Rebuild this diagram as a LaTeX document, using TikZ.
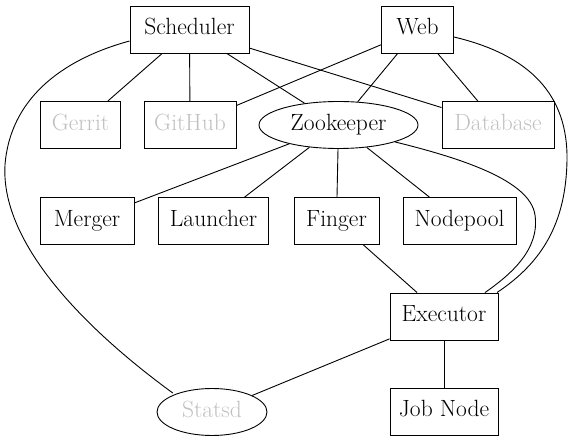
\documentclass[tikz,border=0pt]{standalone}
\usetikzlibrary{shapes.geometric}
\definecolor{gvgray}{RGB}{192,192,192}
\begin{document}
\begin{tikzpicture}[x=1pt,y=-1pt,
  every node/.style={font=\fontsize{23.5}{27}\selectfont, inner sep=0pt, text height=15pt, text depth=4.5pt},
  box/.style={draw, rectangle, line width=0.9pt, minimum height=47pt},
  oval/.style={draw, ellipse, line width=0.9pt, minimum height=47pt},
  ext/.style={text=gvgray},
  link/.style={line width=0.9pt}]
\useasboundingbox (0,0) rectangle (576,443);
\node[box, minimum width=119pt] (sch) at (189.5,29.5) {Scheduler};
\node[box, minimum width=72pt] (web) at (417.5,29.5) {Web};
\node[box, ext, minimum width=80pt] (ger) at (80.5,125) {Gerrit};
\node[box, ext, minimum width=92pt] (gh) at (190,125) {GitHub};
\node[oval, minimum width=159pt] (zk) at (338.5,125) {Zookeeper};
\node[box, ext, minimum width=112pt] (db) at (498,125) {Database};
\node[box, minimum width=94pt] (mer) at (87,221) {Merger};
\node[box, minimum width=110pt] (lau) at (213.5,221) {Launcher};
\node[box, minimum width=85pt] (fin) at (336.5,221) {Finger};
\node[box, minimum width=113pt] (np) at (459.5,221) {Nodepool};
\node[box, minimum width=108pt] (exe) at (444,316.5) {Executor};
\node[oval, ext, minimum width=110pt] (sta) at (212,412) {Statsd};
\node[box, minimum width=108pt] (job) at (444,411.5) {Job Node};

\draw[link] (sch) -- (ger);
\draw[link] (sch) -- (gh);
\draw[link] (sch) -- (zk);
\draw[link] (sch) -- (db);
\draw[link] (web) -- (gh);
\draw[link] (web) -- (zk);
\draw[link] (web) -- (db);
\draw[link] (zk) -- (mer);
\draw[link] (zk) -- (lau);
\draw[link] (zk) -- (fin);
\draw[link] (zk) -- (np);
\draw[link] (fin) -- (exe);
\draw[link] (exe) -- (sta);
\draw[link] (exe) -- (job);

\coordinate (c1) at (5,165);
\draw[link] (sch.west |- 0,41) .. controls (60,60) and (10,100) .. (c1)
  .. controls (0,250) and (100,340) .. (sta.north west |- 0,393);
\coordinate (c2) at (567,160);
\draw[link] (web.east |- 0,37) .. controls (530,55) and (568,95) .. (c2)
  .. controls (566,222) and (543,262) .. (exe.north east -| 497,0);
\coordinate (c3) at (535,215);
\draw[link] (zk.south east) .. controls (460,158) and (530,180) .. (c3)
  .. controls (540,250) and (510,275) .. (exe.north -| 485,0);
\end{tikzpicture}
\end{document}
